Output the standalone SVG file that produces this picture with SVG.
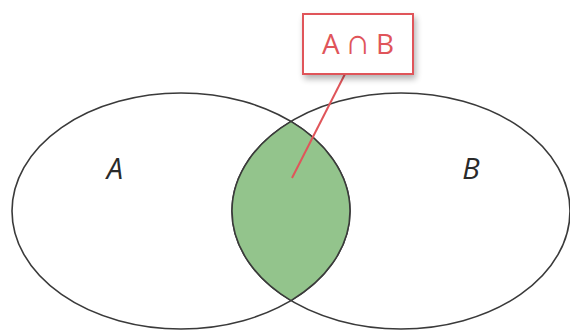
<svg xmlns="http://www.w3.org/2000/svg" width="570" height="331" viewBox="0 0 570 331">
<defs>
<filter id="sh" x="-20%" y="-30%" width="150%" height="170%">
<feGaussianBlur in="SourceAlpha" stdDeviation="3"/>
<feOffset dx="2" dy="4"/>
<feComponentTransfer><feFuncA type="linear" slope="0.3"/></feComponentTransfer>
<feMerge><feMergeNode/><feMergeNode in="SourceGraphic"/></feMerge>
</filter>
</defs>
<style>
.set{fill:none;stroke:#3a3a3a;stroke-width:1.6}
.lab{font-family:"Open Sans","Liberation Sans",sans-serif;font-style:italic;font-size:29px;fill:#2a2a2a}
.red{stroke:#e0555a;stroke-width:2}
</style>
<rect width="570" height="331" fill="#fff"/>
<g id="setA"><ellipse class="set" cx="181" cy="211" rx="169" ry="118"/><text class="lab" x="115" y="179" text-anchor="middle">A</text></g>
<g id="setB"><ellipse class="set" cx="401" cy="211" rx="169" ry="118"/><text class="lab" x="471" y="179" text-anchor="middle">B</text></g>
<g id="intersection"><path d="M291 121.4 A169 118 0 0 1 291 300.6 A169 118 0 0 1 291 121.4 Z" fill="#93c48c" stroke="#3a3a3a" stroke-width="1.6"/></g>
<g id="connectors"><line class="red" x1="292" y1="178" x2="345" y2="74"/></g>
<g id="label">
<rect x="303" y="14" width="110" height="60" fill="#fff" stroke="#e0555a" stroke-width="2" filter="url(#sh)"/>
<text x="358" y="54" text-anchor="middle" font-family="'Open Sans','Liberation Sans',sans-serif" font-size="28" fill="#e0555a" word-spacing="-2">A <tspan font-size="36">∩</tspan> B</text>
</g>
</svg>
